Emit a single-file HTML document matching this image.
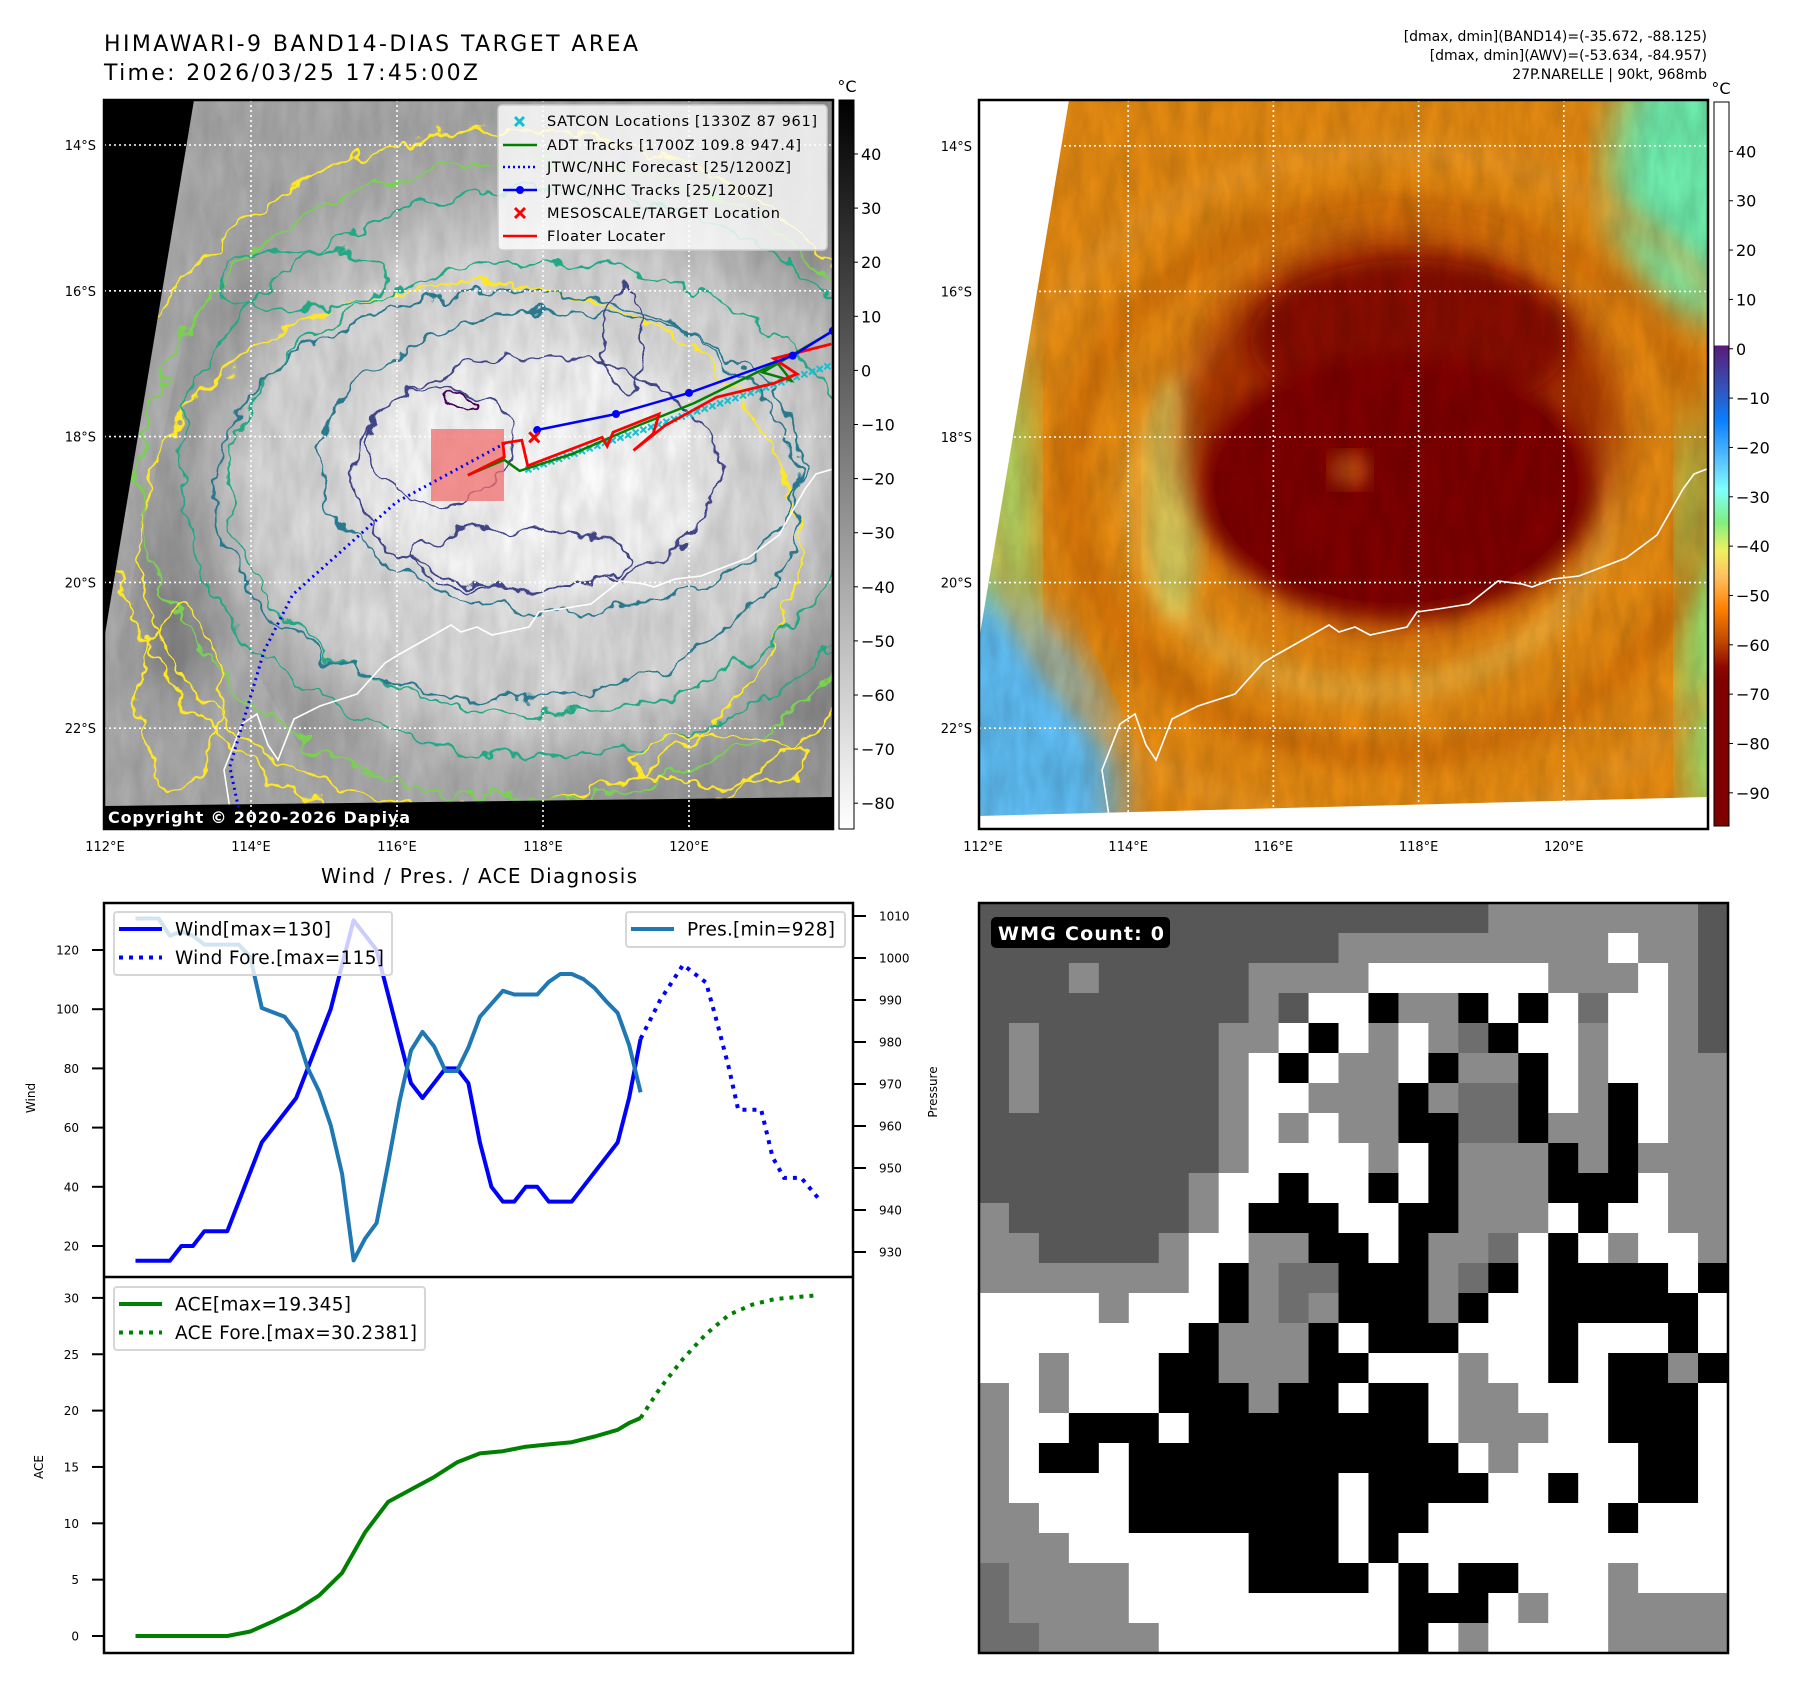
<!DOCTYPE html>
<html><head><meta charset="utf-8"><title>HIMAWARI-9 BAND14 DIAS</title>
<style>
html,body{margin:0;padding:0;background:#fff;}
svg{display:block;font-family:"DejaVu Sans","Liberation Sans",sans-serif;}
</style></head>
<body>
<svg id="fig" width="1797" height="1690" viewBox="0 0 1797 1690" xmlns="http://www.w3.org/2000/svg">
<defs>
  <filter id="wob" x="-10%" y="-10%" width="120%" height="120%">
    <feTurbulence type="fractalNoise" baseFrequency="0.035" numOctaves="3" seed="4" result="n"/>
    <feDisplacementMap in="SourceGraphic" in2="n" scale="30" xChannelSelector="R" yChannelSelector="G"/>
  </filter>
  <filter id="blur20"><feGaussianBlur stdDeviation="20"/></filter>
  <filter id="blur10"><feGaussianBlur stdDeviation="10"/></filter>
  <filter id="tex" x="0" y="0" width="100%" height="100%">
    <feTurbulence type="fractalNoise" baseFrequency="0.06 0.02" numOctaves="3" seed="7"/>
    <feColorMatrix type="matrix" values="0 0 0 0 0  0 0 0 0 0  0 0 0 0 0  0 0 0 0.35 -0.05"/>
  </filter>
  <radialGradient id="core1" cx="0.5" cy="0.5" r="0.5">
    <stop offset="0" stop-color="#ffffff"/><stop offset="0.75" stop-color="#f6f6f6"/><stop offset="1" stop-color="#e2e2e2" stop-opacity="0"/>
  </radialGradient>
  <radialGradient id="halo1" cx="0.5" cy="0.5" r="0.5">
    <stop offset="0" stop-color="#eeeeee"/><stop offset="0.7" stop-color="#d8d8d8"/><stop offset="1" stop-color="#c4c4c4" stop-opacity="0"/>
  </radialGradient>
  <linearGradient id="cb1" x1="0" y1="0" x2="0" y2="1">
    <stop offset="0" stop-color="#000"/><stop offset="1" stop-color="#fff"/>
  </linearGradient>
  <linearGradient id="cb2" x1="0" y1="0" x2="0" y2="1">
    <stop offset="0" stop-color="#ffffff"/>
    <stop offset="0.3365" stop-color="#ffffff"/>
    <stop offset="0.3366" stop-color="#5a1a78"/>
    <stop offset="0.40" stop-color="#2f58c0"/>
    <stop offset="0.44" stop-color="#0a80ff"/>
    <stop offset="0.50" stop-color="#60c8ff"/>
    <stop offset="0.535" stop-color="#80ffff"/>
    <stop offset="0.58" stop-color="#80f080"/>
    <stop offset="0.62" stop-color="#f0f060"/>
    <stop offset="0.655" stop-color="#ffc060"/>
    <stop offset="0.70" stop-color="#ff8000"/>
    <stop offset="0.745" stop-color="#c04800"/>
    <stop offset="0.78" stop-color="#900800"/>
    <stop offset="0.80" stop-color="#800000"/>
    <stop offset="1" stop-color="#800000"/>
  </linearGradient>
  <clipPath id="clipM1"><rect x="104" y="100" width="729" height="729"/></clipPath>
  <clipPath id="clipM2"><rect x="979" y="100" width="729" height="729"/></clipPath>
</defs>

<!-- ================= TITLES ================= -->
<text x="104" y="51" font-size="22" textLength="534">HIMAWARI-9 BAND14-DIAS TARGET AREA</text>
<text x="104" y="80" font-size="22" textLength="374">Time: 2026/03/25 17:45:00Z</text>
<g font-size="14" text-anchor="end">
  <text x="1707" y="41">[dmax, dmin](BAND14)=(-35.672, -88.125)</text>
  <text x="1707" y="60">[dmax, dmin](AWV)=(-53.634, -84.957)</text>
  <text x="1707" y="79">27P.NARELLE | 90kt, 968mb</text>
</g>

<!-- ================= MAP 1 (grayscale + contours) ================= -->
<g id="map1" clip-path="url(#clipM1)">
  <rect x="104" y="100" width="729" height="729" fill="#adadad"/>
  <ellipse cx="215" cy="480" rx="50" ry="220" fill="#808080" filter="url(#blur20)" transform="rotate(12 215 480)"/>
  <ellipse cx="300" cy="640" rx="45" ry="120" fill="#858585" filter="url(#blur20)" transform="rotate(-30 300 640)"/>
  <ellipse cx="800" cy="150" rx="90" ry="130" fill="#959595" filter="url(#blur20)"/>
  <ellipse cx="800" cy="600" rx="70" ry="150" fill="#858585" filter="url(#blur20)"/>
  <ellipse cx="700" cy="780" rx="160" ry="50" fill="#9a9a9a" filter="url(#blur20)"/>
  <ellipse cx="530" cy="480" rx="400" ry="330" fill="url(#halo1)"/>
  <ellipse cx="534" cy="472" rx="215" ry="150" fill="url(#core1)"/>
  <rect x="104" y="100" width="729" height="729" filter="url(#tex)" opacity="0.5"/>
  <g fill="none" stroke-width="2.2" filter="url(#wob)">
    <ellipse cx="514" cy="488" rx="409" ry="357" stroke="#fde725"/>
    <ellipse cx="470" cy="546" rx="330" ry="262" stroke="#fde725"/>
    <ellipse cx="528" cy="480" rx="387" ry="320" stroke="#7ad151"/>
    <ellipse cx="543" cy="473" rx="365" ry="284" stroke="#22a884"/>
    <ellipse cx="543" cy="488" rx="314" ry="226" stroke="#22a884"/>
    <ellipse cx="507" cy="495" rx="292" ry="204" stroke="#2a788e"/>
    <ellipse cx="561" cy="462" rx="240" ry="150" stroke="#2a788e"/>
    <ellipse cx="536" cy="473" rx="182" ry="117" stroke="#414487"/>
    <ellipse cx="441" cy="444" rx="73" ry="58" stroke="#414487"/>
    <ellipse cx="520" cy="560" rx="110" ry="30" stroke="#414487"/>
    <ellipse cx="625" cy="340" rx="20" ry="55" stroke="#414487"/>
    <ellipse cx="455" cy="400" rx="18" ry="10" stroke="#440154"/>
    <ellipse cx="300" cy="280" rx="80" ry="30" stroke="#22a884"/>
    <ellipse cx="720" cy="760" rx="90" ry="25" stroke="#fde725"/>
    <ellipse cx="180" cy="700" rx="40" ry="90" stroke="#fde725"/>
  </g>
  <polyline id="coast1" fill="none" stroke="#fff" stroke-width="1.6"
    points="231,816 224,770 242,724 257,714 268,745 278,760 294,719 320,706 357,694 385,663 398,655 430,637 451,625 461,632 477,627 492,635 529,627 539,612 560,609 591,604 620,581 644,584 654,587 675,579 701,576 748,558 779,535 805,489 816,474 833,469"/>
  <polygon points="104,100 194,100 104,640" fill="#000"/>
  <polygon points="104,806 833,797 833,829 104,829" fill="#000"/>
  <g id="grid1" stroke="#fff" stroke-width="1.6" stroke-dasharray="2 3"></g>
  <rect x="431" y="429" width="73" height="72" fill="rgba(240,110,110,0.75)"/>
  <g id="tracks1"></g>
</g>
<rect x="104" y="100" width="729" height="729" fill="none" stroke="#000" stroke-width="2.5"/>
<text x="108" y="823" font-size="16" font-weight="bold" fill="#fff" textLength="302">Copyright © 2020-2026 Dapiya</text>

<!-- map1 legend -->
<g>
  <rect x="498" y="105" width="329" height="145" rx="4" fill="#fff" fill-opacity="0.8" stroke="#ccc" stroke-width="1.5"/>
  <g stroke-width="2.5">
    <path d="M515 117 l9 9 M524 117 l-9 9" stroke="#17becf" stroke-width="3"/>
    <line x1="503" y1="145" x2="537" y2="145" stroke="#008000"/>
    <line x1="503" y1="167" x2="537" y2="167" stroke="#0000ff" stroke-dasharray="2 3"/>
    <line x1="503" y1="190" x2="537" y2="190" stroke="#0000ff"/>
    <circle cx="520" cy="190" r="4" fill="#0000ff"/>
    <path d="M515 208 l10 10 M525 208 l-10 10" stroke="#ff0000" stroke-width="3"/>
    <line x1="503" y1="236" x2="537" y2="236" stroke="#ff0000"/>
  </g>
  <g font-size="14.5">
    <text x="547" y="126" textLength="270">SATCON Locations [1330Z 87 961]</text>
    <text x="547" y="150" textLength="254">ADT Tracks [1700Z 109.8 947.4]</text>
    <text x="547" y="172" textLength="244">JTWC/NHC Forecast [25/1200Z]</text>
    <text x="547" y="195" textLength="226">JTWC/NHC Tracks [25/1200Z]</text>
    <text x="547" y="218" textLength="233">MESOSCALE/TARGET Location</text>
    <text x="547" y="241" textLength="118">Floater Locater</text>
  </g>
</g>

<!-- colorbar 1 -->
<g>
  <rect x="839" y="100" width="15" height="729" fill="url(#cb1)" stroke="#000" stroke-width="1"/>
  <text x="847" y="92" font-size="16" text-anchor="middle">°C</text>
  <g id="cb1ticks" font-size="16"></g>
</g>

<!-- ================= MAP 2 (color) ================= -->
<g id="map2" clip-path="url(#clipM2)">
  <rect x="979" y="100" width="729" height="729" fill="#e88c12"/>
  <ellipse cx="1720" cy="170" rx="110" ry="150" fill="#70f0b0" filter="url(#blur20)"/>
  <ellipse cx="1715" cy="620" rx="35" ry="230" fill="#90e878" filter="url(#blur20)"/>
  <ellipse cx="995" cy="560" rx="40" ry="250" fill="#a8e070" filter="url(#blur20)"/>
  <ellipse cx="1010" cy="740" rx="95" ry="160" fill="#60c0f8" filter="url(#blur20)" transform="rotate(-25 1010 740)"/>
  <ellipse cx="1390" cy="490" rx="400" ry="340" fill="none" stroke="#eea030" stroke-width="22" opacity="0.5" filter="url(#blur10)"/>
  <ellipse cx="1390" cy="480" rx="320" ry="275" fill="none" stroke="#cc6200" stroke-width="30" opacity="0.55" filter="url(#blur10)"/>
  <ellipse cx="1370" cy="500" rx="235" ry="190" fill="none" stroke="#f0c050" stroke-width="24" opacity="0.6" filter="url(#blur10)"/>
  <ellipse cx="1175" cy="500" rx="28" ry="120" fill="#d8e070" opacity="0.8" filter="url(#blur10)"/>
  <ellipse cx="1400" cy="430" rx="220" ry="200" fill="#a83000" filter="url(#blur20)"/>
  <ellipse cx="1410" cy="340" rx="160" ry="80" fill="#8a0800" filter="url(#blur10)"/>
  <ellipse cx="1396" cy="485" rx="195" ry="130" fill="#800000" filter="url(#blur10)"/>
  <ellipse cx="1396" cy="485" rx="182" ry="118" fill="#800000"/>
  <ellipse cx="1350" cy="470" rx="20" ry="18" fill="#c05010" filter="url(#blur10)"/>
  <rect x="979" y="100" width="729" height="729" filter="url(#tex)" opacity="0.6"/>
  <polyline id="coast2" fill="none" stroke="#fff" stroke-width="1.6"
    points="1109,816 1102,770 1120,724 1135,714 1146,745 1156,760 1172,719 1198,706 1235,694 1263,663 1276,655 1308,637 1329,625 1339,632 1355,627 1370,635 1407,627 1417,612 1438,609 1469,604 1498,581 1522,584 1532,587 1553,579 1579,576 1626,558 1657,535 1683,489 1694,474 1707,469"/>
  <polygon points="979,100 1069,100 979,640" fill="#fff"/>
  <polygon points="979,816 1708,797 1708,829 979,829" fill="#fff"/>
  <g id="grid2" stroke="#fff" stroke-width="1.6" stroke-dasharray="2 3"></g>
</g>
<rect x="979" y="100" width="729" height="729" fill="none" stroke="#000" stroke-width="2.5"/>

<!-- colorbar 2 -->
<g>
  <rect x="1714" y="102" width="15" height="724" fill="url(#cb2)" stroke="#000" stroke-width="1"/>
  <text x="1721" y="94" font-size="16" text-anchor="middle">°C</text>
  <g id="cb2ticks" font-size="16"></g>
</g>

<g id="maplabels" font-size="13"></g>

<!-- ================= CHART ================= -->
<text x="479" y="883" font-size="20" text-anchor="middle" textLength="316">Wind / Pres. / ACE Diagnosis</text>
<g id="chart"></g>

<!-- ================= WMG panel ================= -->
<g id="wmg"></g>
<rect x="979" y="903" width="749" height="750" fill="none" stroke="#000" stroke-width="2.5"/>
<rect x="991" y="917" width="179" height="31" rx="5" fill="#000"/>
<text x="998" y="940" font-size="19" font-weight="bold" fill="#fff" textLength="166">WMG Count: 0</text>
</svg>

<script>
// ---------------- Chart data ----------------
var windX = [0,3,4,5,6,8,11,14,15,17,18,19,20,21,22,23,24,25,26,27,28,29,30,31,32,33,34,35,36,37,38,39,40,41,42,43,44];
var windV = [15,15,20,20,25,25,55,70,80,100,115,130,125,120,105,90,75,70,75,80,80,75,55,40,35,35,40,40,35,35,35,40,45,50,55,70,90];
var windForeX = [44,45.7,47.7,49.7,50.7,51.7,52.5,54.5,55.5,56.5,58,59.5];
var windForeV = [90,103,115,109,95,80,66,66,50,43,43,36];
var presX = [0,2,3,4,5,6,9,10,11,13,14,15,16,17,18,19,20,21,22,23,24,25,26,27,28,29,30,31,32,33,34,35,36,37,38,39,40,41,42,43,44];
var presV = [1009.4,1009.4,1005.3,1006.3,1005.3,1003.2,1003.2,1000.2,988.1,986,982.4,973.8,968.2,960.2,948.6,928,933.2,936.9,951,965.8,978,982.4,979,973.1,973.1,978.7,986,989.1,992.2,991.3,991.3,991.3,994.3,996.2,996.2,995,992.8,989.7,986.9,979.3,968];
var aceX = [0,8,10,12,14,16,18,20,22,24,26,28,30,32,34,36,38,40,42,43,44];
var aceV = [0,0,0.4,1.3,2.3,3.6,5.6,9.2,11.9,13,14.1,15.4,16.2,16.4,16.8,17,17.2,17.7,18.3,18.9,19.345];
var aceForeX = [44,45.7,47.7,49.7,51.7,53.7,55.7,59.5];
var aceForeV = [19.345,22,24.6,26.8,28.5,29.4,29.9,30.24];
var windTicks = [20,40,60,80,100,120];
var presTicks = [930,940,950,960,970,980,990,1000,1010];
var aceTicks = [0,5,10,15,20,25,30];
var cb1Ticks = [40,30,20,10,0,-10,-20,-30,-40,-50,-60,-70,-80];
var cb2Ticks = [40,30,20,10,0,-10,-20,-30,-40,-50,-60,-70,-80,-90];
var lonTicks = [112,114,116,118,120];
var latTicks = [14,16,18,20,22];

// ---------------- Track data (lon, lat) ----------------
var jtwcLon = [117.92,119.0,120.0,121.42,121.97];
var jtwcLat = [17.91,17.69,17.40,16.89,16.55];
var foreLon = [117.48,115.99,114.57,114.18,113.71,113.83];
var foreLat = [18.09,18.90,20.17,20.94,22.53,23.10];
var floaterLon = [116.97,117.47,117.45,117.71,117.79,118.81,118.88,118.96,119.59,119.51,119.24,119.67,120.38,121.16,121.48,121.16,121.95];
var floaterLat = [18.53,18.28,18.09,18.05,18.40,18.01,18.13,17.94,17.69,17.96,18.19,17.85,17.46,17.27,17.14,16.93,16.73];
var adtLon = [116.97,117.47,117.68,118.42,119.20,120.07,121.01,121.21,121.40,121.01,121.97];
var adtLat = [18.53,18.32,18.47,18.23,17.89,17.54,17.08,16.99,17.23,17.12,16.55];
var satconLon = [117.80,122.0];
var satconLat = [18.45,17.0];
var targetLon = [117.88];
var targetLat = [18.01];

// ---------------- WMG grid ----------------
var wmgRows = [
"DDDDDDDDDDDDDDDDDGGGGGGGD",
"DDDDDDDDDDDDGGGGGGGGGWGGD",
"DDDGDDDDDGGGGWWWWWWGGGWGD",
"DDDDDDDDDGDWWKGGKWKWMWWGD",
"DGDDDDDDGGWKWGWGMKWWGWWGD",
"DGDDDDDDGWKWGGWKGGKWGWWGG",
"DGDDDDDDGWWGGGKGMMKWGKWGG",
"DDDDDDDDGWGWGGKKMMKGGKWGG",
"DDDDDDDDGWWWWGWKGGGKGKGGG",
"DDDDDDDGWWKWWKWKGGGKKKWGG",
"GDDDDDDGWKKKWWKKGGGWKWWGG",
"GGDDDDGWWGGKKWKGGMWKWGWWG",
"GGGGGGGWKGMMKKKGMKWKKKKWK",
"WWWWGWWWKGMGKKKGKWWKKKKKW",
"WWWWWWWKGGGKWKKKWWWKWWWKW",
"WWGWWWKKGGGKKWWWGWWKWKKGK",
"GWGWWWKKKGKKWKKWGGWWWKKKW",
"GWWKKKWKKKKKKKKWGGGWWKKKW",
"GWKKWKKKKKKKKKKKWGWWWWKKW",
"GWWWWKKKKKKKWKKKKWWKWWKKW",
"GGWWWKKKKKKKWKKWWWWWWKWWW",
"GGGWWWWWWKKKWKWWWWWWWWWWW",
"MGGGGWWWWKKKKWKWKKWWWGWWW",
"MGGGGWWWWWWWWWKKKWGWWGGGG",
"MMGGGGWWWWWWWWKWGWWWWGGGG"];

var NS = "http://www.w3.org/2000/svg";
function mk(tag, parent, attrs){
  var e = document.createElementNS(NS, tag);
  for (var k in attrs) e.setAttribute(k, attrs[k]);
  parent.appendChild(e);
  return e;
}
function pts(xs, ys, fx, fy){
  var s = [];
  for (var i=0;i<xs.length;i++) s.push(fx(xs[i]).toFixed(1)+","+fy(ys[i]).toFixed(1));
  return s.join(" ");
}

// ---------------- Map projections ----------------
function X1(lon){ return 105 + (lon-112)*73; }
function Y1(lat){ return 145 + (lat-14)*72.9; }
function X2(lon){ return 983 + (lon-112)*72.6; }
function Y2(lat){ return 145.8 + (lat-14)*72.8; }

var grid1 = document.getElementById('grid1');
var grid2 = document.getElementById('grid2');
var labels = document.getElementById('maplabels');
lonTicks.forEach(function(lon){
  if (lon > 112) {
    var g1 = mk('line', grid1, {x1:X1(lon), y1:100, x2:X1(lon), y2:829});
    
    
    var g2 = mk('line', grid2, {x1:X2(lon), y1:100, x2:X2(lon), y2:829});
    
    
  }
  var t1 = mk('text', labels, {x:X1(lon), y:851, 'text-anchor':'middle'});
  t1.textContent = lon + '°E';
  
  
  var t2 = mk('text', labels, {x:X2(lon), y:851, 'text-anchor':'middle'});
  t2.textContent = lon + '°E';
  
  
});
latTicks.forEach(function(lat){
  var g1 = mk('line', grid1, {x1:104, y1:Y1(lat), x2:833, y2:Y1(lat)});
  
  
  var g2 = mk('line', grid2, {x1:979, y1:Y2(lat), x2:1708, y2:Y2(lat)});
  
  
  var t1 = mk('text', labels, {x:96, y:Y1(lat)+5, 'text-anchor':'end'});
  t1.textContent = lat + '°S';
  
  
  var t2 = mk('text', labels, {x:972, y:Y2(lat)+5, 'text-anchor':'end'});
  t2.textContent = lat + '°S';
  
  
});

// tracks
var tr = document.getElementById('tracks1');
var fc = mk('polyline', tr, {points:pts(foreLon, foreLat, X1, Y1), fill:'none', stroke:'#0000ff', 'stroke-width':3, 'stroke-dasharray':'2 4'});


var sc = mk('g', tr, {stroke:'#17becf', 'stroke-width':2});


for (var k=0;k<=40;k++){
  var lo = satconLon[0] + (satconLon[1]-satconLon[0])*k/40;
  var la = satconLat[0] + (satconLat[1]-satconLat[0])*k/40;
  var mx = X1(lo), my = Y1(la);
  var m = mk('path', sc, {d:'M'+(mx-3)+' '+(my-3)+' l6 6 M'+(mx+3)+' '+(my-3)+' l-6 6'});
  
  
}
var ad = mk('polyline', tr, {points:pts(adtLon, adtLat, X1, Y1), fill:'none', stroke:'#008000', 'stroke-width':2.5});


var fl = mk('polyline', tr, {points:pts(floaterLon, floaterLat, X1, Y1), fill:'none', stroke:'#ff0000', 'stroke-width':2.8});


var jt = mk('polyline', tr, {points:pts(jtwcLon, jtwcLat, X1, Y1), fill:'none', stroke:'#0000ff', 'stroke-width':2.5});


for (var j=0;j<jtwcLon.length;j++){
  var d = mk('circle', tr, {cx:X1(jtwcLon[j]), cy:Y1(jtwcLat[j]), r:4, fill:'#0000ff'});
  
  
}
var tx = X1(targetLon[0]), ty = Y1(targetLat[0]);
var tm = mk('path', tr, {d:'M'+(tx-5)+' '+(ty-5)+' l10 10 M'+(tx+5)+' '+(ty-5)+' l-10 10', stroke:'#ff0000', 'stroke-width':3});



// colorbar ticks
var cb1 = document.getElementById('cb1ticks');
cb1Ticks.forEach(function(v){
  var y = 154 + (40 - v)*5.41;
  var l = mk('line', cb1, {x1:854, y1:y, x2:858, y2:y, stroke:'#000', 'stroke-width':1});
  
  
  var t = mk('text', cb1, {x:861, y:y+6});
  t.textContent = (v<0 ? '\u2212' + (-v) : '' + v);
  
  
});
var cb2 = document.getElementById('cb2ticks');
cb2Ticks.forEach(function(v){
  var y = 151.4 + (40 - v)*4.934;
  var l = mk('line', cb2, {x1:1729, y1:y, x2:1733, y2:y, stroke:'#000', 'stroke-width':1});
  
  
  var t = mk('text', cb2, {x:1736, y:y+6});
  t.textContent = (v<0 ? '\u2212' + (-v) : '' + v);
  
  
});

// ---------------- Chart axes ----------------
function xIdx(i){ return 135.5 + i*11.48; }
function yWind(v){ return 950 + (120 - v)*2.96; }
function yPres(p){ return 916 + (1010 - p)*4.2; }
function yAce(a){ return 1636 - a*11.27; }

var chartG = document.getElementById('chart');
mk('rect', chartG, {x:104, y:903, width:749, height:750, fill:'#fff'});
var tk = mk('g', chartG, {'font-size':12});
windTicks.forEach(function(v){
  var y = yWind(v);
  var l = mk('line', tk, {x1:92, y1:y, x2:104, y2:y, stroke:'#000', 'stroke-width':2});
  
  
  var t = mk('text', tk, {x:79, y:y+4.5, 'text-anchor':'end'});
  t.textContent = v;
  
  
});
presTicks.forEach(function(v){
  var y = yPres(v);
  var l = mk('line', tk, {x1:853, y1:y, x2:866, y2:y, stroke:'#000', 'stroke-width':2});
  
  
  var t = mk('text', tk, {x:879, y:y+4.5});
  t.textContent = v;
  
  
});
aceTicks.forEach(function(v){
  var y = yAce(v);
  var l = mk('line', tk, {x1:92, y1:y, x2:104, y2:y, stroke:'#000', 'stroke-width':2});
  
  
  var t = mk('text', tk, {x:79, y:y+4.5, 'text-anchor':'end'});
  t.textContent = v;
  
  
});
var yl1 = mk('text', chartG, {x:0, y:0, 'font-size':12, 'text-anchor':'middle', transform:'translate(35,1098) rotate(-90)'});
yl1.textContent = 'Wind';


var yl2 = mk('text', chartG, {x:0, y:0, 'font-size':12, 'text-anchor':'middle', transform:'translate(937,1092) rotate(-90)'});
yl2.textContent = 'Pressure';


var yl3 = mk('text', chartG, {x:0, y:0, 'font-size':12, 'text-anchor':'middle', transform:'translate(43,1467) rotate(-90)'});
yl3.textContent = 'ACE';



// series
var seriesG = mk('g', chartG, {fill:'none', 'stroke-width':4, 'stroke-linejoin':'round'});
var wl = mk('polyline', seriesG, {points:pts(windX, windV, xIdx, yWind), stroke:'#0000ff'});


var wf = mk('polyline', seriesG, {points:pts(windForeX, windForeV, xIdx, yWind), stroke:'#0000ff', 'stroke-dasharray':'4 6', 'stroke-linejoin':'miter'});


var pl = mk('polyline', seriesG, {points:pts(presX, presV, xIdx, yPres), stroke:'#1f77b4'});


var al = mk('polyline', seriesG, {points:pts(aceX, aceV, xIdx, yAce), stroke:'#008000'});


var af = mk('polyline', seriesG, {points:pts(aceForeX, aceForeV, xIdx, yAce), stroke:'#008000', 'stroke-dasharray':'4 6'});



// legends
function legend(x, y, w, h, items, name){
  var g = mk('g', chartG, {});
  
  
  mk('rect', g, {x:x, y:y, width:w, height:h, rx:3, fill:'#fff', 'fill-opacity':0.8, stroke:'#d6d6d6', 'stroke-width':2});
  items.forEach(function(it, i){
    var ly = y + 17 + i*28.5;
    var l = mk('line', g, {x1:x+5, y1:ly, x2:x+48, y2:ly, stroke:it.c, 'stroke-width':4, 'stroke-dasharray':it.d ? '4 6' : 'none'});
    
    
    var t = mk('text', g, {x:x+61, y:ly+6.5, 'font-size':18.5, textLength:it.w});
    t.textContent = it.t;
    
    
  });
}
legend(114, 912, 278, 63, [{c:'#0000ff', t:'Wind[max=130]', w:156},{c:'#0000ff', d:1, t:'Wind Fore.[max=115]', w:209}], 'wind-legend');
legend(626, 912, 219, 35, [{c:'#1f77b4', t:'Pres.[min=928]', w:148}], 'pressure-legend');
legend(114, 1287, 311, 63, [{c:'#008000', t:'ACE[max=19.345]', w:176},{c:'#008000', d:1, t:'ACE Fore.[max=30.2381]', w:242}], 'ace-legend');

mk('line', chartG, {x1:104, y1:1277, x2:853, y2:1277, stroke:'#000', 'stroke-width':2.5});
mk('rect', chartG, {x:104, y:903, width:749, height:750, fill:'none', stroke:'#000', 'stroke-width':2.5});

// ---------------- WMG panel ----------------
var wg = document.getElementById('wmg');
var colors = {D:'#575757', G:'#8a8a8a', M:'#6e6e6e', W:'#ffffff', K:'#000000'};
var cw = 749/25, chh = 750/25;
for (var r=0;r<wmgRows.length;r++){
  for (var c=0;c<25;c++){
    var code = wmgRows[r].charAt(c);
    var cell = mk('rect', wg, {x:(979 + c*cw).toFixed(2), y:(903 + r*chh).toFixed(2), width:(cw+0.6).toFixed(2), height:(chh+0.6).toFixed(2), fill:colors[code]});
    
    
  }
}
</script>
</body></html>
